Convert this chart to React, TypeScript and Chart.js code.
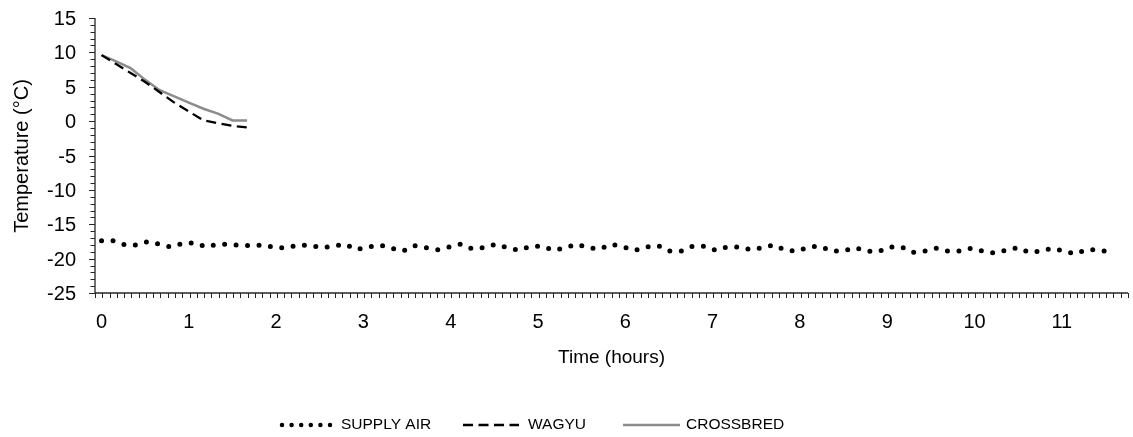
import React, { useEffect, useRef } from "react";
import { Chart, registerables } from "chart.js";

Chart.register(...registerables);

// ---- data ----
const SUPPLY_STEP_H = 0.1328; // hours between supply-air readings
const SUPPLY_AIR = [
  -17.4, -17.4, -18.0, -18.0, -17.5, -17.9, -18.3, -17.8, -17.7, -18.3, -17.9, -17.9, -18.1, -18.1,
  -18.0, -18.4, -18.4, -18.0, -18.1, -18.4, -18.2, -17.9, -18.7, -18.3, -18.0, -18.5, -18.9, -18.1,
  -18.4, -18.7, -18.3, -17.9, -18.6, -18.4, -17.9, -18.4, -18.8, -18.2, -18.2, -18.8, -18.4, -17.9,
  -18.4, -18.6, -17.9, -18.3, -18.8, -18.3, -18.1, -18.9, -18.9, -18.2, -18.2, -18.8, -18.3, -18.3,
  -18.7, -18.4, -18.0, -18.8, -18.9, -18.3, -18.2, -18.9, -18.9, -18.4, -18.9, -19.0, -18.3, -18.3,
  -19.1, -18.9, -18.5, -18.9, -18.9, -18.5, -18.9, -19.2, -18.8, -18.4, -19.1, -18.9, -18.5, -18.9,
  -19.3, -18.7, -18.7, -19.1,
];
const CARCASS_TIMES = [0, 0.167, 0.333, 0.5, 0.667, 0.833, 1.0, 1.167, 1.333, 1.5, 1.667];
const WAGYU = [9.6, 8.3, 7.0, 5.7, 4.2, 2.7, 1.4, 0.1, -0.3, -0.7, -0.9];
const CROSSBRED = [9.6, 8.7, 7.7, 6.0, 4.5, 3.6, 2.7, 1.8, 1.1, 0.1, 0.1];

const X_LABELS = [0, 1, 2, 3, 4, 5, 6, 7, 8, 9, 10, 11];
const Y_LABELS = [15, 10, 5, 0, -5, -10, -15, -20, -25];
const X_MIN = -0.075;
const X_MINOR_STEP = 1 / 12;
const X_MINOR_COUNT = 142;
const X_MAX = X_MIN + X_MINOR_COUNT * X_MINOR_STEP;

const SERIES_NAMES = ["SUPPLY AIR", "WAGYU", "CROSSBRED"];

const FONT = "'Liberation Sans', Arial, sans-serif";
const AXIS_COLOR = "#262626";

const axesPlugin = {
  id: "customAxes",
  afterDraw(chart: any) {
    const ctx = chart.ctx as CanvasRenderingContext2D;
    const xs = chart.scales.x;
    const ys = chart.scales.y;
    const { left, right, top, bottom } = chart.chartArea;
    ctx.save();
    ctx.strokeStyle = AXIS_COLOR;
    ctx.fillStyle = "#000";
    ctx.lineWidth = 1.3;
    // axis lines
    ctx.beginPath();
    ctx.moveTo(left, top);
    ctx.lineTo(left, bottom);
    ctx.moveTo(left, bottom);
    ctx.lineTo(right, bottom);
    ctx.stroke();
    // y ticks (minor every 1, major every 5)
    ctx.lineWidth = 1;
    ctx.beginPath();
    for (let v = -25; v <= 15; v++) {
      const py = Math.round(ys.getPixelForValue(v)) + 0.5;
      const len = v % 5 === 0 ? 6 : 4.5;
      ctx.moveTo(left - len, py);
      ctx.lineTo(left, py);
    }
    ctx.stroke();
    // x ticks
    ctx.beginPath();
    for (let k = 0; k <= X_MINOR_COUNT; k++) {
      const px = Math.round(xs.getPixelForValue(X_MIN + k * X_MINOR_STEP)) + 0.5;
      ctx.moveTo(px, bottom);
      ctx.lineTo(px, bottom + 5);
    }
    ctx.stroke();
    // y labels
    ctx.font = `20px ${FONT}`;
    ctx.textAlign = "right";
    ctx.textBaseline = "alphabetic";
    Y_LABELS.forEach((v) => {
      ctx.fillText(String(v), 76, ys.getPixelForValue(v) + 7);
    });
    // x labels
    ctx.textAlign = "center";
    X_LABELS.forEach((v) => {
      ctx.fillText(String(v), xs.getPixelForValue(v), 328);
    });
    // titles
    ctx.font = `19px ${FONT}`;
    ctx.textBaseline = "alphabetic";
    ctx.fillText("Time (hours)", (left + right) / 2, 363);
    ctx.save();
    ctx.translate(22, 156);
    ctx.rotate(-Math.PI / 2);
    ctx.font = `20px ${FONT}`;
    ctx.textBaseline = "middle";
    ctx.fillText("Temperature (°C)", 0, 0);
    ctx.restore();
    // legend
    const ly = 425;
    ctx.lineCap = "round";
    ctx.strokeStyle = "#000";
    ctx.lineWidth = 4.5;
    ctx.setLineDash([0, 9.6]);
    ctx.beginPath();
    ctx.moveTo(282, ly);
    ctx.lineTo(331, ly);
    ctx.stroke();
    ctx.lineCap = "butt";
    ctx.lineWidth = 2.3;
    ctx.setLineDash([10, 5.5]);
    ctx.beginPath();
    ctx.moveTo(463, ly);
    ctx.lineTo(519, ly);
    ctx.stroke();
    ctx.setLineDash([]);
    ctx.strokeStyle = "#8c8c8c";
    ctx.lineWidth = 2.3;
    ctx.beginPath();
    ctx.moveTo(623, ly);
    ctx.lineTo(680, ly);
    ctx.stroke();
    ctx.font = `15.5px ${FONT}`;
    ctx.textAlign = "left";
    ctx.textBaseline = "middle";
    ctx.fillStyle = "#000";
    ctx.fillText(SERIES_NAMES[0], 341, ly);
    ctx.fillText(SERIES_NAMES[1], 528, ly);
    ctx.fillText(SERIES_NAMES[2], 686, ly);
    ctx.restore();
  },
};

export default function App() {
  const ref = useRef<HTMLCanvasElement | null>(null);
  useEffect(() => {
    document.body.style.margin = "0";
    const canvas = ref.current!;
    const chart = new Chart(canvas, {
      type: "line",
      data: {
        datasets: [
          {
            label: SERIES_NAMES[0],
            data: SUPPLY_AIR.map((y, i) => ({ x: i * SUPPLY_STEP_H, y })),
            borderColor: "#000",
            borderWidth: 5,
            borderDash: [0, 11.5],
            borderCapStyle: "round",
            pointRadius: 0,
            tension: 0,
          },
          {
            label: SERIES_NAMES[1],
            data: WAGYU.map((y, i) => ({ x: CARCASS_TIMES[i], y })),
            borderColor: "#000",
            borderWidth: 2.3,
            borderDash: [10, 5.5],
            pointRadius: 0,
            tension: 0,
          },
          {
            label: SERIES_NAMES[2],
            data: CROSSBRED.map((y, i) => ({ x: CARCASS_TIMES[i], y })),
            borderColor: "#8c8c8c",
            borderWidth: 2.5,
            pointRadius: 0,
            tension: 0,
          },
        ],
      },
      options: {
        animation: false,
        responsive: false,
        devicePixelRatio: 1,
        layout: { padding: { left: 95, right: 1133 - 1128, top: 18, bottom: 437 - 293 } },
        plugins: { legend: { display: false }, tooltip: { enabled: false } },
        scales: {
          x: { type: "linear", min: X_MIN, max: X_MAX, display: false },
          y: { type: "linear", min: -25, max: 15, display: false },
        },
      },
      plugins: [axesPlugin],
    });
    return () => chart.destroy();
  }, []);
  return (
    <div style={{ width: 1133, height: 437, background: "#fff" }}>
      <canvas ref={ref} width={1133} height={437} />
    </div>
  );
}
